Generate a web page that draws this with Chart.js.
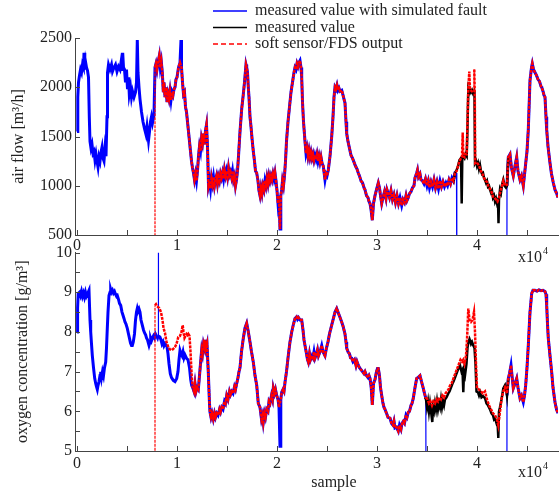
<!DOCTYPE html>
<html>
<head>
<meta charset="utf-8">
<script src="https://cdn.jsdelivr.net/npm/chart.js@4.4.0/dist/chart.umd.min.js"></script>
<style>
  body { margin: 0; background: #fff; }
  #wrap { position: relative; width: 559px; height: 495px; }
  #wrap canvas { position: absolute; left: 0; }
</style>
</head>
<body>
<div id="wrap">
  <canvas id="airChart" width="559" height="265" style="top:0"></canvas>
  <canvas id="o2Chart" width="559" height="255" style="top:240px"></canvas>
</div>

<script>
  // ---- data: [sample, value] ----
  const xTicks = [0, 5000, 10000, 15000, 20000, 25000, 30000, 35000, 40000, 45000];
  const airTicks = [500, 1000, 1500, 2000, 2500];
  const o2Ticks = [5, 5.5, 6, 6.5, 7, 7.5, 8, 8.5, 9, 9.5, 10];

  const legendLabels = ['measured value with simulated fault', 'measured value', 'soft sensor/FDS output'];

  // air flow, measured with simulated fault (fault -> 0)
  const airBlue = [
    [0,1550],[80,1900],[150,2050],[250,2120],[350,2180],[450,2150],[550,2230],[650,2200],[700,2350],[780,2180],
    [850,2260],[950,2200],[1050,2170],[1150,2100],[1230,1700],[1300,1450],[1400,1380],[1500,1420],[1600,1330],
    [1700,1350],[1800,1260],[1900,1320],[2000,1250],[2100,1190],[2200,1290],[2300,1250],[2400,1340],[2500,1390],
    [2600,1280],[2700,1250],[2800,1380],[2900,1300],[3000,1700],[3050,2150],[3150,2230],[3300,2180],[3450,2230],
    [3550,2160],[3700,2200],[3850,2230],[4000,2160],[4150,2210],[4300,2180],[4400,2250],[4500,2180],[4570,2350],
    [4650,2200],[4750,2180],[4850,2050],[4950,2180],[5050,1980],[5150,2100],[5230,1930],[5350,2000],[5450,1900],
    [5550,1960],[5700,1900],[5850,1950],[5950,2050],[6030,2480],[6100,2150],[6200,2000],[6300,1880],[6450,1750],
    [6600,1650],[6750,1580],[6900,1520],[7000,1600],[7150,1460],[7250,1550],[7350,1650],[7450,1700],[7550,1640],
    [7700,1720],[7800,2200],[7900,2240],[8000,2180],[8100,2250],[8230,2320],[8330,2200],[8430,2260],[8530,2150],
    [8630,1950],[8700,2050],[8800,1900],[8900,2000],[9000,1850],[9100,1930],[9200,1880],[9300,1960],[9400,1870],
    [9500,1950],[9600,1920],[9700,1980],[9800,2000],[9900,2080],[10000,2100],[10150,2200],[10300,2250],[10400,2480],
    [10450,2200],[10550,2050],[10650,1930],[10750,1950],[10850,1800],[10950,1750],[11050,1650],[11150,1550],
    [11250,1450],[11350,1350],[11450,1250],[11550,1180],[11650,1130],[11750,1060],[11850,1120],[11950,1050],
    [12050,1150],[12150,1300],[12250,1400],[12350,1350],[12450,1480],[12550,1430],[12650,1530],[12750,1420],
    [12850,1560],[12950,1620],[13050,1400],[13150,1000],[13250,1050],[13350,970],[13450,1080],[13550,1020],
    [13650,1090],[13750,1000],[13850,1060],[13950,1100],[14050,1020],[14150,1090],[14250,1050],[14350,1120],
    [14450,1080],[14550,1130],[14650,1070],[14750,1160],[14850,1100],[14950,1150],[15050,1090],[15150,1180],
    [15250,1110],[15350,1140],[15450,1090],[15550,1150],[15650,1060],[15750,1100],[15850,1000],[15950,1060],
    [16050,1150],[16150,1300],[16300,1550],[16470,1780],[16600,1900],[16750,2050],[16900,2230],[16970,2200],
    [17050,2150],[17130,2000],[17200,1900],[17300,1700],[17400,1600],[17500,1480],[17630,1350],[17750,1250],
    [17850,1150],[17970,1130],[18100,1050],[18200,950],[18300,900],[18400,980],[18500,920],[18600,1000],
    [18700,960],[18800,1050],[18900,1000],[19000,1080],[19100,1020],[19200,1100],[19300,1050],[19400,1100],
    [19500,1060],[19600,1120],[19700,1070],[19800,1130],[19900,1050],[20000,950],[20100,820],[20200,900],
    [20300,560],[20380,900],[20470,960],[20550,1050],[20650,1000],[20750,1100],[20850,1250],[20950,1450],
    [21100,1650],[21250,1800],[21400,1950],[21550,2050],[21700,2150],[21800,2200],[21900,2180],[22000,2240],
    [22100,2210],[22200,2250],[22300,2270],[22400,2200],[22470,2100],[22550,1850],[22650,1650],[22800,1450],
    [22900,1330],[23000,1380],[23100,1300],[23200,1360],[23300,1290],[23400,1340],[23500,1280],[23600,1320],
    [23700,1260],[23800,1310],[23900,1270],[24000,1320],[24100,1250],[24200,1300],[24300,1240],[24400,1290],
    [24500,1230],[24630,1200],[24800,1060],[24900,1120],[25000,1100],[25130,1160],[25300,1300],[25470,1500],
    [25600,1700],[25700,1900],[25800,2000],[25900,1980],[26000,2020],[26100,1970],[26200,1990],[26300,1960],
    [26470,1970],[26600,1920],[26700,1880],[26800,1840],[26900,1650],[26970,1530],[27100,1450],[27250,1380],
    [27400,1310],[27550,1280],[27700,1240],[27850,1200],[28000,1170],[28130,1130],[28250,1100],[28400,1050],
    [28550,1030],[28700,980],[28800,960],[28950,900],[29100,880],[29200,840],[29300,820],[29400,760],[29530,650],
    [29650,820],[29800,900],[29950,960],[30050,1000],[30130,1030],[30250,980],[30350,900],[30470,820],[30600,880],
    [30750,940],[30900,870],[31000,960],[31130,920],[31250,880],[31400,950],[31550,860],[31700,910],[31850,830],
    [32000,900],[32150,820],[32300,880],[32470,800],[32600,860],[32750,830],[32900,900],[33000,850],[33130,880],
    [33250,920],[33400,940],[33550,980],[33700,1000],[33800,1080],[33970,1130],[34050,1160],[34150,1090],
    [34300,1120],[34400,1060],[34550,1050],[34700,1020],[34850,1070],[35000,1000],[35130,1050],[35250,980],
    [35400,1040],[35550,990],[35700,1060],[35850,980],[36000,1040],[36150,970],[36300,1050],[36450,990],
    [36600,1040],[36750,990],[36900,1030],[37050,1000],[37200,1060],[37350,1020],[37500,1080],[37650,1050],
    [37800,1130],[37950,1130],[37980,0],[42990,0],[43000,1000],[43130,1290],[43300,1320],[43450,1180],
    [43630,1100],[43800,1200],[43970,1290],[44100,1150],[44300,1060],[44450,1100],[44630,1000],[44800,1160],
    [45000,1350],[45130,1570],[45300,2070],[45450,2200],[45530,2240],[45650,2180],[45800,2150],[45950,2120],
    [46100,2080],[46250,2060],[46400,2010],[46470,2000],[46600,1960],[46700,1920],[46800,1900],[46900,1700],
    [46970,1570],[47100,1400],[47300,1230],[47450,1120],[47630,1030],[47800,960],[47970,920],[48100,880]
  ];

  // air flow, true measured value (visible in fault window)
  const airBlack = [
    [37500,1080],[37650,1050],[37800,1130],[37970,1160],[38100,1200],[38250,1260],[38400,1280],[38470,820],
    [38530,1280],[38630,1300],[38750,1280],[38850,1320],[38970,1300],[39050,1600],[39130,1970],[39200,1940],
    [39300,1980],[39400,1950],[39500,1970],[39600,1940],[39700,1960],[39750,1900],[39800,1230],[39900,1250],
    [40000,1200],[40100,1230],[40200,1170],[40300,1210],[40400,1150],[40500,1120],[40600,1130],[40700,1080],
    [40800,1060],[40900,1030],[41000,1050],[41100,990],[41200,1000],[41300,960],[41400,930],[41500,950],
    [41600,880],[41700,900],[41800,840],[41900,870],[42000,820],[42100,850],[42150,620],[42200,860],[42300,960],
    [42400,930],[42500,1010],[42630,1060],[42750,1000],[42900,980],[43000,1000],[43130,1290]
  ];

  // air flow, soft sensor output inside fault window
  const airRedFault = [
    [37970,1150],[38100,1200],[38250,1250],[38400,1280],[38500,1300],[38570,1540],[38630,1300],[38750,1290],
    [38850,1320],[38970,1320],[39050,1650],[39130,1990],[39230,2160],[39300,1980],[39450,1960],[39600,1950],
    [39700,1960],[39730,2180],[39780,1900],[39820,1230],[39950,1240],[40100,1220],[40250,1190],[40400,1150],
    [40550,1120],[40700,1080],[40850,1050],[41000,1040],[41150,990],[41300,970],[41450,940],[41600,890],
    [41750,880],[41900,860],[42050,840],[42200,880],[42350,950],[42500,1000],[42630,1050],[42800,1000],[43000,1010]
  ];

  // oxygen, measured with simulated fault (fault -> 4)
  const o2Blue = [
    [0,8.0],[60,8.6],[120,8.97],[250,9.0],[350,8.92],[450,9.02],[550,8.9],[650,8.98],[750,8.88],[850,9.0],
    [950,8.9],[1050,8.95],[1150,9.02],[1200,9.05],[1300,8.3],[1370,8.0],[1450,7.7],[1530,7.41],[1650,7.1],
    [1770,6.83],[1870,6.7],[1950,6.62],[2030,6.55],[2100,6.65],[2200,6.75],[2300,6.9],[2370,7.0],[2450,6.85],
    [2550,7.0],[2650,6.9],[2750,7.1],[2870,7.24],[2950,7.6],[3030,8.09],[3100,8.5],[3200,8.92],[3300,9.0],
    [3370,9.07],[3450,9.0],[3550,9.05],[3650,8.98],[3750,9.02],[3850,8.95],[3950,8.9],[4030,8.92],[4150,8.82],
    [4250,8.72],[4370,8.67],[4500,8.5],[4600,8.42],[4700,8.34],[4800,8.25],[4900,8.2],[5030,8.09],[5150,7.95],
    [5250,7.84],[5350,7.72],[5450,7.66],[5530,7.66],[5630,7.75],[5750,7.95],[5850,8.3],[5950,8.5],[6030,8.59],
    [6100,8.52],[6200,8.58],[6300,8.5],[6400,8.3],[6530,8.17],[6650,8.05],[6750,7.98],[6870,7.92],[6950,7.85],
    [7050,7.8],[7200,7.66],[7300,7.75],[7370,7.84],[7450,7.78],[7550,7.85],[7650,7.9],[7750,7.85],[7850,7.95],
    [7950,7.9],[8050,7.85],[8100,7.9],[8130,10.0],[8160,7.9],[8300,7.87],[8400,7.8],[8500,7.7],[8600,7.75],
    [8700,7.65],[8800,7.7],[9000,7.63],[9100,7.45],[9200,7.2],[9330,6.95],[9450,6.85],[9630,6.78],[9800,6.75],
    [9970,6.83],[10100,7.0],[10200,7.3],[10300,7.53],[10400,7.45],[10500,7.4],[10600,7.5],[10700,7.35],
    [10800,7.42],[10970,7.33],[11100,7.3],[11250,7.1],[11370,6.8],[11470,6.65],[11570,6.6],[11700,6.5],
    [11800,6.7],[11900,6.5],[12000,6.6],[12130,6.55],[12250,6.9],[12350,7.2],[12470,7.55],[12550,7.45],
    [12650,7.7],[12750,7.6],[12800,7.8],[12900,7.6],[13000,7.7],[13130,6.98],[13250,6.2],[13300,5.98],
    [13400,5.85],[13500,5.95],[13630,5.8],[13750,5.95],[13850,5.85],[13970,5.95],[14100,5.9],[14250,6.05],
    [14350,5.98],[14470,6.1],[14600,6.05],[14750,6.25],[14850,6.2],[14970,6.4],[15100,6.3],[15250,6.5],
    [15350,6.42],[15470,6.5],[15600,6.45],[15750,6.62],[15850,6.55],[15970,6.7],[16100,6.85],[16200,7.0],
    [16300,7.1],[16450,7.5],[16630,7.84],[16800,8.1],[16970,8.22],[17100,8.05],[17200,7.9],[17300,7.75],
    [17450,7.5],[17630,7.24],[17800,6.9],[17970,6.66],[18130,6.2],[18300,6.1],[18450,5.8],[18550,5.9],
    [18630,5.72],[18750,5.95],[18850,5.85],[18970,6.05],[19100,6.0],[19200,6.25],[19300,6.2],[19450,6.4],
    [19550,6.3],[19630,6.58],[19750,6.45],[19850,6.55],[19970,6.4],[20100,6.3],[20200,6.1],[20300,5.12],
    [20380,6.3],[20470,6.48],[20600,6.55],[20700,6.5],[20800,6.73],[20950,7.0],[21130,7.41],[21300,7.75],
    [21470,8.0],[21650,8.2],[21800,8.34],[21950,8.38],[22050,8.32],[22150,8.36],[22300,8.3],[22470,8.3],
    [22600,8.05],[22700,7.8],[22800,7.66],[22950,7.45],[23050,7.3],[23130,7.24],[23250,7.45],[23350,7.3],
    [23500,7.4],[23600,7.35],[23700,7.5],[23800,7.34],[23950,7.45],[24050,7.55],[24150,7.4],[24300,7.5],
    [24470,7.66],[24600,7.5],[24800,7.4],[24950,7.6],[25100,7.75],[25250,7.95],[25470,8.17],[25650,8.35],
    [25800,8.5],[25970,8.59],[26100,8.5],[26250,8.4],[26470,8.25],[26600,8.15],[26800,7.95],[26900,7.75],
    [26970,7.59],[27100,7.5],[27250,7.45],[27350,7.35],[27470,7.34],[27600,7.25],[27750,7.3],[27900,7.15],
    [28000,7.25],[28130,7.16],[28250,7.1],[28400,7.05],[28550,7.0],[28700,6.95],[28800,7.0],[28950,6.9],
    [29100,6.85],[29200,6.9],[29300,6.83],[29420,6.6],[29530,6.16],[29650,6.7],[29800,6.8],[29950,7.0],
    [30050,7.08],[30130,7.08],[30250,6.9],[30350,6.6],[30470,6.4],[30600,6.2],[30700,6.1],[30800,6.05],
    [30950,5.95],[31100,5.85],[31300,5.83],[31450,5.7],[31600,5.65],[31700,5.75],[31800,5.58],[31950,5.6],
    [32130,5.5],[32250,5.65],[32400,5.55],[32500,5.7],[32630,5.75],[32750,5.7],[32900,5.9],[33000,5.85],
    [33130,5.98],[33250,6.0],[33400,6.15],[33500,6.2],[33630,6.33],[33800,6.6],[33970,6.83],[34100,6.85],
    [34300,6.9],[34450,6.75],[34630,6.58],[34750,6.45],[34880,6.33],[34900,4],[42990,4],[43000,6.4],
    [43130,6.83],[43250,6.95],[43400,7.16],[43500,6.9],[43630,6.58],[43800,6.7],[43970,6.83],[44100,6.6],
    [44300,6.33],[44450,6.4],[44630,6.23],[44750,6.4],[44870,6.66],[45000,7.1],[45130,7.66],[45300,8.5],
    [45470,8.97],[45600,9.05],[45800,9.05],[46000,9.03],[46200,9.06],[46400,9.04],[46600,9.05],[46800,9.02],
    [46900,8.95],[46970,8.67],[47050,8.2],[47130,7.84],[47300,7.4],[47470,6.98],[47600,6.6],[47800,6.23],
    [47950,6.05],[48100,5.95]
  ];

  const o2Black = [
    [34800,6.35],[34900,6.3],[35000,6.1],[35100,6.25],[35200,6.0],[35300,6.2],[35400,6.0],[35530,5.73],
    [35600,6.1],[35700,6.0],[35800,6.2],[35900,6.05],[36000,6.25],[36100,6.05],[36200,6.2],[36300,6.1],
    [36400,6.3],[36500,6.1],[36600,6.25],[36700,6.15],[36800,6.3],[36950,6.35],[37130,6.45],[37250,6.5],
    [37400,6.6],[37550,6.7],[37650,6.75],[37800,6.85],[37950,6.95],[38100,7.05],[38300,7.16],[38450,7.0],
    [38550,7.05],[38630,6.48],[38700,7.0],[38800,6.9],[38950,7.2],[39050,7.6],[39130,7.74],[39250,7.82],
    [39400,7.7],[39500,7.75],[39630,7.66],[39750,7.6],[39850,7.2],[39950,6.5],[40100,6.48],[40200,6.4],
    [40300,6.48],[40450,6.35],[40600,6.38],[40800,6.33],[40950,6.2],[41100,6.15],[41300,6.05],[41450,5.95],
    [41600,5.9],[41700,5.8],[41800,5.83],[41950,5.7],[42050,5.75],[42130,5.33],[42200,6.0],[42300,6.1],
    [42450,6.3],[42630,6.58],[42800,6.66],[42950,6.5],[43000,6.4],[43130,6.83]
  ];

  // soft sensor output where it departs from the measured value
  const o2RedStart = [
    [7800,4],[7800,8.67],[7900,8.7],[8000,8.65],[8230,8.6],[8400,8.5],[8550,8.3],[8650,8.1],[8800,7.97],
    [8950,7.75],[9130,7.62],[9300,7.56],[9470,7.54],[9650,7.58],[9800,7.62],[9950,7.7],[10130,7.87],
    [10300,7.9],[10450,8.0],[10570,8.17],[10650,8.0],[10750,7.85],[10850,7.9],[10950,7.95],[11050,7.92],
    [11130,7.95],[11250,7.9],[11350,7.5],[11470,6.9],[11570,6.6]
  ];
  const o2RedFault = [
    [34900,6.35],[35050,6.3],[35200,6.2],[35350,6.25],[35500,6.15],[35650,6.25],[35800,6.2],[35950,6.3],
    [36100,6.25],[36250,6.35],[36400,6.3],[36550,6.4],[36700,6.35],[36850,6.45],[37000,6.5],[37150,6.55],
    [37300,6.65],[37450,6.7],[37600,6.8],[37750,6.9],[37900,7.0],[38050,7.1],[38200,7.2],[38350,7.3],
    [38500,7.25],[38630,7.3],[38750,7.2],[38900,7.4],[39000,7.8],[39130,8.59],[39250,8.3],[39400,8.25],
    [39550,8.3],[39700,8.5],[39800,8.0],[39900,7.2],[40000,6.58],[40200,6.55],[40400,6.5],[40600,6.45],
    [40800,6.5],[41000,6.3],[41200,6.15],[41400,6.05],[41600,5.95],[41800,5.9],[42000,5.8],[42130,5.65],
    [42300,6.0],[42450,6.3],[42630,6.5],[42800,6.6],[43000,6.45]
  ];

  // soft sensor follows the measurement outside those stretches
  const airRed = [[7800, 0]]
    .concat(airBlue.filter(p => p[0] >= 7800 && p[0] <= 37800 && p[0] !== 10400))
    .concat(airRedFault)
    .concat(airBlue.filter(p => p[0] >= 43130));
  const o2Red = o2RedStart
    .concat(o2Blue.filter(p => p[0] >= 11700 && p[0] <= 34880 && p[0] !== 20300))
    .concat(o2RedFault)
    .concat(o2Blue.filter(p => p[0] >= 43130));

  const toXY = arr => arr.map(p => ({ x: p[0], y: p[1] }));

  Chart.defaults.font.family = '"Liberation Serif", "Times New Roman", serif';
  Chart.defaults.font.size = 16;
  Chart.defaults.color = '#222';

  const AXIS = '#444';

  const innerTicks = {
    id: 'innerTicks',
    afterDraw(chart, args, opts) {
      const ctx = chart.ctx, a = chart.chartArea;
      const xs = chart.scales.x, ys = chart.scales.y;
      ctx.save();
      ctx.strokeStyle = AXIS;
      ctx.lineWidth = 1;
      ctx.beginPath();
      xs.ticks.forEach(t => {
        const px = Math.round(xs.getPixelForValue(t.value)) + 0.5;
        ctx.moveTo(px, a.bottom); ctx.lineTo(px, a.bottom - 5);
      });
      ys.ticks.forEach(t => {
        const py = Math.round(ys.getPixelForValue(t.value)) + 0.5;
        ctx.moveTo(a.left, py); ctx.lineTo(a.left + 5, py);
      });
      ctx.stroke();

      ctx.fillStyle = '#222';
      ctx.textBaseline = 'alphabetic';
      ctx.textAlign = 'left';
      ctx.font = '16px "Liberation Serif"';
      ctx.fillText('x10', opts.expX, opts.expY);
      const w = ctx.measureText('x10').width;
      ctx.font = '10px "Liberation Serif"';
      ctx.fillText('4', opts.expX + w + 1, opts.expY - 8);

      if (opts.xLabel) {
        ctx.font = '16px "Liberation Serif"';
        ctx.textAlign = 'center';
        ctx.textBaseline = 'middle';
        ctx.fillText(opts.xLabel, opts.xLabelX, opts.xLabelY);
      }
      ctx.restore();
    }
  };

  const lineLegend = {
    id: 'lineLegend',
    afterDraw(chart, args, opts) {
      if (!opts.show) return;
      const ctx = chart.ctx;
      ctx.save();
      chart.data.datasets.forEach((ds, i) => {
        const y = opts.y + i * opts.rowH;
        ctx.strokeStyle = ds.borderColor;
        ctx.lineWidth = 1.5;
        ctx.setLineDash(i === 2 ? [5, 3] : []);
        ctx.beginPath();
        ctx.moveTo(opts.x, y); ctx.lineTo(opts.x + opts.lineW, y);
        ctx.stroke();
        ctx.setLineDash([]);
        ctx.fillStyle = '#222';
        ctx.font = '16px "Liberation Serif"';
        ctx.textAlign = 'left';
        ctx.textBaseline = 'middle';
        ctx.fillText(legendLabels[i], opts.x + opts.lineW + 8, y);
      });
      ctx.restore();
    }
  };

  // jumps to an off-scale value (fault, start of soft sensor) and one-sample spikes are thin strokes
  function thinSegment(yMin, width) {
    return ctx => {
      const a = ctx.p0.parsed, b = ctx.p1.parsed;
      const off = a.y < yMin || b.y < yMin;
      return (off || Math.abs(b.x - a.x) <= 30) ? 1.2 : width;
    };
  }

  function makeChart(el, blue, black, red, yMin, yMax, yTicks, yTitle, cfg) {
    return new Chart(document.getElementById(el), {
      type: 'line',
      data: {
        datasets: [
          { data: toXY(blue), borderColor: '#0000ff', borderWidth: 3, order: 2,
            segment: { borderWidth: thinSegment(yMin, 3) } },
          { data: toXY(black), borderColor: '#000000', borderWidth: 2.5, order: 1 },
          { data: toXY(red), borderColor: '#ff0000', borderWidth: 2.5, borderDash: [3, 1], order: 0,
            segment: { borderWidth: thinSegment(yMin, 2.5) } }
        ]
      },
      options: {
        responsive: false,
        animation: false,
        events: [],
        layout: { padding: { top: cfg.padTop, right: 1, left: 0, bottom: 0 } },
        elements: { point: { radius: 0 }, line: { tension: 0 } },
        plugins: {
          legend: { display: false },
          tooltip: { enabled: false },
          innerTicks: cfg.extras,
          lineLegend: cfg.legend
        },
        scales: {
          x: {
            type: 'linear', min: -200, max: 48100,
            afterBuildTicks: axis => { axis.ticks = xTicks.map(v => ({ value: v })); },
            afterFit: axis => { axis.height = cfg.xHeight; },
            grid: { display: false, drawTicks: false },
            border: { display: true, color: AXIS, width: 1 },
            ticks: { padding: cfg.xPad, maxRotation: 0, autoSkip: false,
              callback: v => (v % 10000 === 0 ? String(v / 10000) : '') }
          },
          y: {
            min: yMin, max: yMax,
            afterBuildTicks: axis => { axis.ticks = yTicks.map(v => ({ value: v })); },
            afterFit: axis => { axis.width = 75; },
            grid: { display: false, drawTicks: false },
            border: { display: true, color: AXIS, width: 1 },
            ticks: { padding: 3, autoSkip: false,
              callback: v => (Number.isInteger(v) ? String(v) : '') },
            title: { display: true, text: yTitle, padding: { top: cfg.titlePad, bottom: 0 } }
          }
        }
      },
      plugins: [innerTicks, lineLegend]
    });
  }

  makeChart('airChart', airBlue, airBlack, airRed, 500, 2500, airTicks, 'air flow [m³/h]', {
    padTop: 38, xHeight: 30, xPad: 1, titlePad: 9,
    extras: { expX: 518, expY: 262 },
    legend: { show: true, x: 213, y: 11, rowH: 16.5, lineW: 34 }
  });

  makeChart('o2Chart', o2Blue, o2Black, o2Red, 5, 10, o2Ticks, 'oxygen concentration [g/m³]', {
    padTop: 12, xHeight: 44, xPad: 3, titlePad: 13,
    extras: { expX: 518, expY: 237, xLabel: 'sample', xLabelX: 334, xLabelY: 243 },
    legend: { show: false }
  });
</script>
</body>
</html>
